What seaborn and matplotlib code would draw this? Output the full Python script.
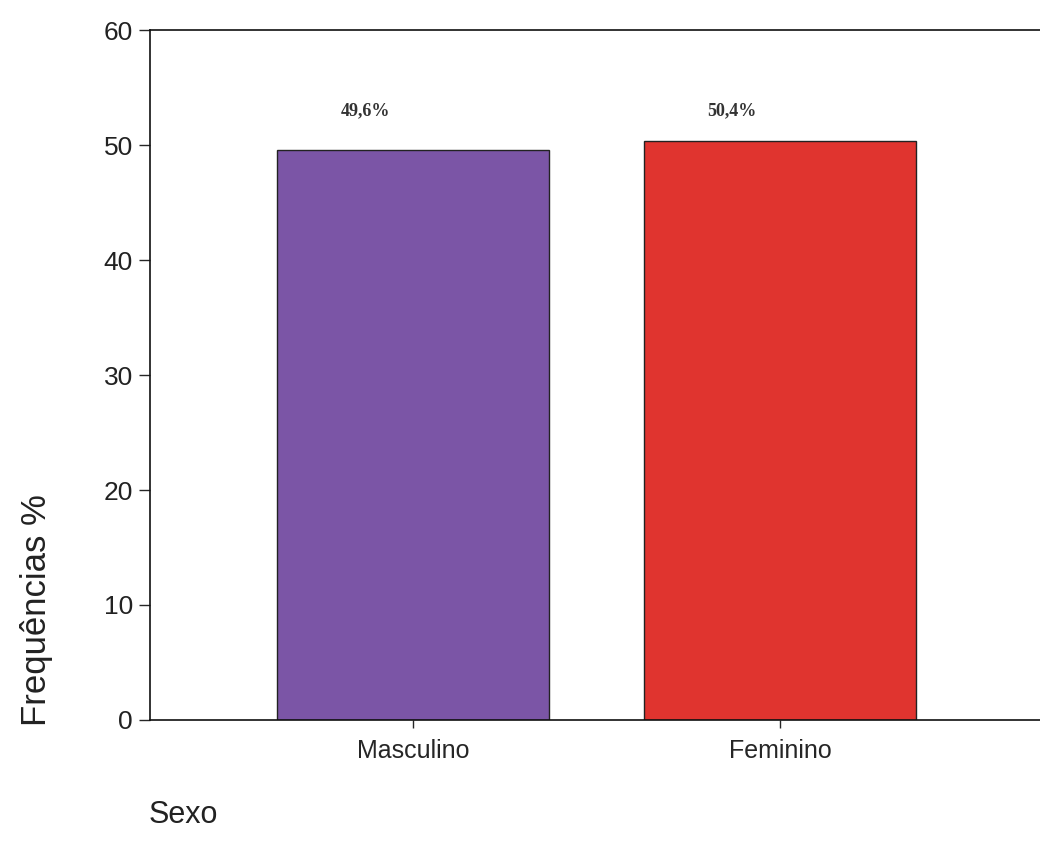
import matplotlib
matplotlib.use("Agg")
import matplotlib.pyplot as plt
import seaborn as sns
import pandas as pd

# dados
sexo = ["Masculino", "Feminino"]
freq = [49.6, 50.4]
rotulos = ["49,6%", "50,4%"]
cores = ["#7B55A6", "#E0342F"]
yticks = [0, 10, 20, 30, 40, 50, 60]

sns.set_style("white")
plt.rcParams['font.family'] = ['Liberation Sans', 'DejaVu Sans']

df = pd.DataFrame({"Sexo": sexo, "Freq": freq})

fig = plt.figure(figsize=(10.4, 8.42), dpi=100)
ax = fig.add_axes([0.144, 0.145, 0.856, 0.819])

sns.barplot(data=df, x="Sexo", y="Freq", hue="Sexo", palette=cores, saturation=1,
            width=0.74, edgecolor="#222222", linewidth=1.0, ax=ax, legend=False)

for i, (v, txt) in enumerate(zip(freq, rotulos)):
    ax.text(i - 0.13, 53.0, txt, ha="center", va="center", fontsize=13,
            fontweight="bold", family=["Liberation Serif", "DejaVu Serif"],
            color="#333333")

ax.set_xlim(-0.717, 1.708)
ax.set_ylim(0, 60)
ax.set_yticks(yticks)
ax.set_yticklabels([str(t) for t in yticks], fontsize=19, color="#222222")
ax.tick_params(axis="y", left=True, length=8, width=1, direction="out", pad=4)
ax.tick_params(axis="x", bottom=True, length=6, width=1, direction="out", labelsize=18, pad=8)

for s in ["left", "bottom", "top"]:
    ax.spines[s].set_color("#111111")
    ax.spines[s].set_linewidth(1.2)
ax.spines["right"].set_visible(False)

ax.set_xlabel("")
ax.set_ylabel("")
fig.text(0.035, 0.275, "Frequências %", rotation=90, ha="center", va="center",
         fontsize=25, family=["Liberation Sans Narrow", "Liberation Sans", "DejaVu Sans"],
         color="#222222")
fig.text(0.143, 0.014, "Sexo", ha="left", va="bottom", fontsize=22, color="#222222")

fig.savefig("out.png", dpi=100)
